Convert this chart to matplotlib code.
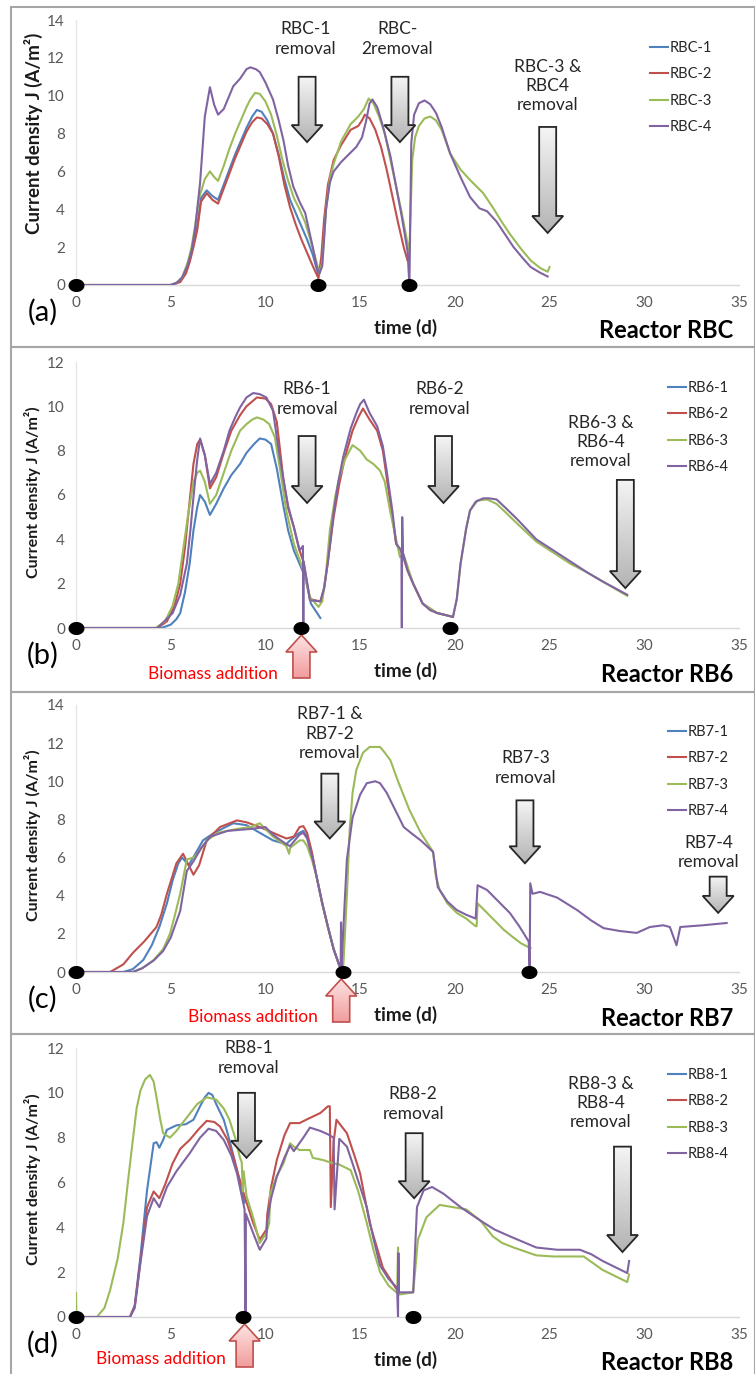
import numpy as np
import matplotlib
matplotlib.use("Agg")
import matplotlib.pyplot as plt
from matplotlib.patches import Polygon, Rectangle
from matplotlib.colors import LinearSegmentedColormap
from matplotlib.path import Path

plt.rcParams['font.family'] = ['Lato', 'DejaVu Sans']

W, H, DPI = 755, 1374, 100
COLORS = ['#4F81BD', '#C0504D', '#9BBB59', '#8064A2']

# ------------------------------------------------------------------ data
# Panel (a) Reactor RBC
names_a = ["RBC-1", "RBC-2", "RBC-3", "RBC-4"]
t_a1 = [0, 5.0, 5.5, 5.8, 6.0, 6.2, 6.4, 6.6, 6.9, 7.2, 7.5, 7.8, 8.1, 8.4, 8.7, 9.0, 9.3, 9.55, 9.8, 10.1, 10.4,
        10.7, 11.0, 11.3, 11.6, 11.9, 12.2, 12.5, 12.8]
j_a1 = [0, 0, 0.2, 0.7, 1.3, 2.1, 3.1, 4.6, 5.0, 4.7, 4.5, 5.3, 6.1, 6.9, 7.6, 8.3, 8.9, 9.25, 9.15, 8.7, 8.0,
        6.9, 5.6, 4.5, 3.8, 3.1, 2.4, 1.6, 0.5]
t_a2 = [0, 5.0, 5.5, 5.8, 6.0, 6.2, 6.4, 6.6, 6.9, 7.2, 7.5, 7.8, 8.1, 8.4, 8.7, 9.0, 9.3, 9.55, 9.8, 10.1, 10.4,
        10.7, 11.0, 11.3, 11.6, 11.9, 12.2, 12.5, 12.8, 12.95, 13.1, 13.3, 13.6, 14.0, 14.5, 14.9, 15.1, 15.25,
        15.5, 15.8, 16.1, 16.4, 16.7, 17.0, 17.3, 17.5]
j_a2 = [0, 0, 0.15, 0.6, 1.2, 2.0, 2.9, 4.4, 4.85, 4.5, 4.3, 5.1, 5.9, 6.7, 7.4, 8.1, 8.6, 8.85, 8.8, 8.5, 8.0,
        6.8, 5.3, 4.1, 3.2, 2.4, 1.7, 1.0, 0.35, 1.5, 3.5, 5.3, 6.6, 7.4, 8.2, 8.4, 8.7, 9.0,
        8.8, 8.2, 7.3, 6.1, 4.7, 3.3, 2.0, 1.3]
t_a3 = [0, 5.2, 5.6, 5.9, 6.1, 6.3, 6.5, 6.8, 7.07, 7.3, 7.5, 7.8, 8.1, 8.4, 8.7, 9.0, 9.2, 9.45, 9.7, 10.0, 10.3,
        10.6, 10.9, 11.2, 11.5, 11.8, 12.1, 12.4, 12.7, 12.85, 13.0, 13.2, 13.4, 13.6, 14.0, 14.5, 14.9, 15.2, 15.45,
        15.7, 16.0, 16.3, 16.6, 16.9, 17.2, 17.5, 17.6, 17.75, 17.9, 18.1, 18.4, 18.7, 19.0, 19.3, 19.75, 20.3,
        20.8, 21.5, 22.0, 22.5, 22.9, 23.5, 24.0, 24.5, 24.9, 25.0]
j_a3 = [0, 0, 0.4, 1.2, 2.0, 3.2, 4.6, 5.6, 6.0, 5.7, 5.5, 6.3, 7.2, 8.0, 8.7, 9.4, 9.8, 10.15, 10.1, 9.7, 9.0,
        7.9, 6.6, 5.5, 4.6, 4.0, 3.3, 2.3, 1.2, 0.6, 1.2, 4.0, 5.6, 6.4, 7.6, 8.5, 8.9, 9.3, 9.85,
        9.6, 8.9, 8.0, 6.6, 5.2, 3.8, 2.2, 1.8, 6.6, 7.8, 8.4, 8.8, 8.9, 8.7, 8.2, 6.95, 6.1,
        5.55, 4.85, 4.1, 3.3, 2.7, 1.9, 1.3, 0.9, 0.7, 0.95]
t_a4 = [0, 5.0, 5.3, 5.6, 5.86, 6.1, 6.28, 6.55, 6.8, 7.07, 7.3, 7.5, 7.8, 8.3, 8.66, 9.0, 9.2, 9.5, 9.7, 10.0,
        10.4, 10.7, 10.95, 11.2, 11.47, 11.8, 12.1, 12.3, 12.5, 12.7, 12.85, 13.0, 13.2, 13.4, 13.6, 14.0, 14.4,
        14.8, 15.1, 15.3, 15.5, 15.65, 15.9, 16.2, 16.6, 16.9, 17.2, 17.5, 17.6, 17.7, 17.85, 18.1, 18.4, 18.7,
        19.0, 19.3, 19.75, 20.3, 20.8, 21.3, 21.7, 22.2, 22.7, 23.1, 23.6, 24.0, 24.5, 24.9]
j_a4 = [0, 0, 0.1, 0.4, 0.95, 1.8, 2.9, 5.4, 8.9, 10.45, 9.5, 9.0, 9.3, 10.5, 10.9, 11.4, 11.5, 11.4, 11.25, 10.7,
        9.8, 8.7, 7.65, 6.3, 5.2, 4.4, 3.8, 2.9, 2.0, 1.0, 0.6, 1.0, 4.0, 5.4, 6.0, 6.5, 6.9,
        7.3, 7.8, 8.6, 9.6, 9.8, 9.4, 8.4, 6.8, 5.2, 3.6, 1.8, 0.0, 7.5, 9.0, 9.6, 9.75, 9.55,
        9.1, 8.35, 6.95, 5.7, 4.65, 4.05, 3.9, 3.35, 2.6, 2.0, 1.4, 0.95, 0.65, 0.45]
events_a = [0, 12.8, 17.6]

# Panel (b) Reactor RB6
names_b = ["RB6-1", "RB6-2", "RB6-3", "RB6-4"]
t_b1 = [0, 4.5, 5.0, 5.3, 5.5, 5.75, 6.0, 6.2, 6.4, 6.55, 6.8, 7.07, 7.4, 7.8, 8.2, 8.66, 9.0, 9.4, 9.7, 10.0,
        10.3, 10.6, 10.95, 11.2, 11.5, 11.8, 12.1, 12.4, 12.9]
j_b1 = [0, 0, 0.15, 0.4, 0.67, 1.6, 2.9, 4.4, 5.45, 6.0, 5.7, 5.1, 5.6, 6.3, 6.9, 7.4, 7.9, 8.3, 8.55, 8.5,
        8.3, 7.2, 5.5, 4.4, 3.5, 2.9, 2.3, 1.1, 0.45]
t_b2 = [0, 4.3, 4.8, 5.2, 5.5, 5.75, 5.95, 6.2, 6.4, 6.55, 6.8, 7.07, 7.4, 7.8, 8.2, 8.66, 9.0, 9.55, 10.0, 10.3,
        10.6, 10.95, 11.2, 11.5, 11.8, 12.0, 12.35, 12.9, 13.1, 13.3, 13.6, 13.9, 14.2, 14.6, 14.9, 15.15, 15.5,
        15.9, 16.2, 16.5, 16.9, 17.2, 17.5, 17.8, 18.3, 19.05, 19.9]
j_b2 = [0, 0, 0.3, 1.0, 2.0, 3.6, 5.3, 7.4, 8.3, 8.5, 7.8, 6.3, 6.8, 7.9, 8.9, 9.6, 10.0, 10.4, 10.35, 10.1,
        9.3, 6.7, 5.4, 4.55, 3.5, 3.0, 1.3, 1.2, 1.8, 3.0, 5.0, 6.5, 7.7, 8.9, 9.5, 9.9, 9.4,
        8.9, 8.0, 6.2, 3.8, 3.4, 2.6, 2.0, 1.1, 0.68, 0.5]
t_b3 = [0, 4.2, 4.7, 5.1, 5.4, 5.65, 5.9, 6.2, 6.4, 6.55, 6.8, 7.07, 7.4, 7.8, 8.2, 8.66, 9.0, 9.3, 9.55, 9.9,
        10.2, 10.5, 10.8, 11.1, 11.5, 12.0, 12.35, 12.8, 13.0, 13.2, 13.4, 13.7, 13.9, 14.2, 14.6, 15.0, 15.35,
        15.7, 16.05, 16.3, 16.6, 16.9, 17.1, 17.3, 17.8, 18.3, 19.05, 19.9, 20.1, 20.3, 20.6, 20.8, 21.2, 21.7,
        22.2, 22.7, 23.3, 24.3, 25.2, 26.1, 27.0, 27.8, 29.1]
j_b3 = [0, 0, 0.3, 1.0, 2.0, 3.5, 5.0, 6.6, 7.0, 7.1, 6.6, 5.6, 6.0, 7.0, 8.0, 8.9, 9.2, 9.4, 9.5, 9.4,
        9.2, 8.6, 7.0, 5.3, 3.8, 2.6, 1.4, 0.95, 1.2, 2.5, 4.4, 6.0, 6.8, 7.6, 8.25, 8.0, 7.6,
        7.4, 7.1, 6.6, 5.2, 4.0, 3.2, 3.3, 2.0, 1.1, 0.68, 0.5, 1.3, 2.9, 4.5, 5.3, 5.75, 5.8,
        5.6, 5.2, 4.7, 3.9, 3.4, 2.9, 2.5, 2.1, 1.45]
t_b4 = [0, 4.3, 5.1, 5.5, 5.85, 6.05, 6.2, 6.4, 6.55, 6.8, 7.07, 7.4, 7.8, 8.1, 8.4, 8.66, 9.0, 9.35, 9.7, 10.05,
        10.4, 10.7, 10.95, 11.2, 11.5, 11.8, 11.98, 12.0, 12.02, 12.35, 12.9, 13.1, 13.3, 13.6, 13.85, 14.1,
        14.5, 14.8, 15.0, 15.2, 15.5, 15.9, 16.2, 16.4, 16.7, 16.9, 17.18, 17.2, 17.22, 17.26, 17.5, 17.8, 18.3,
        18.7, 19.05, 19.9, 20.1, 20.3, 20.6, 20.8, 21.1, 21.5, 21.8, 22.2, 22.7, 23.3, 24.3, 25.2, 26.1, 27.0,
        27.8, 29.1]
j_b4 = [0, 0, 0.67, 1.5, 2.9, 4.5, 5.9, 7.6, 8.55, 7.8, 6.5, 7.0, 8.0, 8.9, 9.5, 9.95, 10.4, 10.6, 10.55, 10.4,
        9.8, 8.0, 6.7, 5.5, 4.55, 3.5, 3.7, 0, 3.0, 1.25, 1.2, 1.8, 3.0, 5.2, 6.6, 7.7,
        9.0, 9.7, 10.1, 10.3, 9.7, 9.1, 8.2, 7.1, 5.3, 3.8, 3.5, 0, 5.0, 3.4, 2.6, 2.0, 1.1,
        0.8, 0.68, 0.5, 1.3, 2.9, 4.5, 5.3, 5.7, 5.85, 5.85, 5.8, 5.4, 4.9, 4.0, 3.5, 3.0, 2.5,
        2.1, 1.5]
events_b = [0, 11.9, 19.75]

# Panel (c) Reactor RB7
names_c = ["RB7-1", "RB7-2", "RB7-3", "RB7-4"]
t_c1 = [0, 2.5, 3.0, 3.55, 4.0, 4.4, 4.8, 5.1, 5.4, 5.6, 5.95, 6.3, 6.7, 7.3, 8.3, 9.0, 9.7, 10.4, 11.1, 11.3,
        11.8, 12.0, 12.2, 12.45, 12.7, 13.0, 13.3, 13.6, 13.9, 14.05]
j_c1 = [0, 0, 0.15, 0.63, 1.4, 2.36, 3.6, 4.8, 5.7, 6.0, 5.6, 6.2, 6.9, 7.3, 7.8, 7.7, 7.3, 6.9, 6.7, 6.9,
        7.3, 7.4, 7.1, 6.2, 5.0, 3.6, 2.36, 1.2, 0.35, 0.1]
t_c2 = [0, 1.8, 2.5, 3.0, 3.6, 4.25, 4.5, 4.8, 5.3, 5.65, 5.9, 6.2, 6.5, 6.9, 7.6, 8.5, 9.0, 9.7, 10.4, 11.1,
        11.5, 11.8, 12.0, 12.2, 12.45, 12.7, 13.0, 13.3, 13.6, 13.9, 14.05]
j_c2 = [0, 0, 0.4, 1.0, 1.6, 2.36, 3.0, 4.1, 5.7, 6.2, 5.7, 5.1, 5.6, 6.9, 7.6, 7.95, 7.85, 7.6, 7.3, 7.0,
        7.1, 7.6, 7.65, 7.3, 6.3, 5.0, 3.6, 2.36, 1.2, 0.35, 0.1]
t_c3 = [0, 3.0, 3.5, 4.1, 4.6, 4.96, 5.2, 5.5, 5.85, 6.2, 6.5, 6.9, 7.5, 8.5, 9.2, 9.7, 10.4, 11.1, 11.25, 11.3,
        11.8, 12.0, 12.2, 12.45, 12.7, 13.0, 13.3, 13.6, 13.9, 14.1, 14.2, 14.3, 14.45, 14.6, 14.8, 15.15, 15.5,
        16.05, 16.3, 16.6, 17.0, 17.6, 18.2, 18.85, 19.0, 19.2, 19.6, 20.1, 20.6, 21.1, 21.15, 21.2, 21.7, 22.2,
        22.6, 23.1, 23.5, 24.0]
j_c3 = [0, 0, 0.2, 0.63, 1.2, 2.0, 2.9, 4.1, 5.9, 6.0, 6.3, 6.9, 7.3, 7.5, 7.6, 7.8, 7.1, 6.6, 6.2, 6.5,
        6.9, 6.9, 6.6, 5.9, 5.0, 3.6, 2.36, 1.2, 0.35, 0.1, 2.0, 4.0, 7.5, 9.4, 10.6, 11.5, 11.8,
        11.8, 11.5, 11.1, 10.0, 8.5, 7.3, 6.3, 5.0, 4.3, 3.6, 3.1, 2.8, 2.4, 2.4, 3.6, 3.1, 2.6,
        2.2, 1.8, 1.5, 1.25]
t_c4 = [0, 3.0, 3.5, 4.1, 4.6, 5.0, 5.5, 5.85, 6.2, 6.6, 7.1, 8.0, 9.2, 10.0, 10.4, 11.1, 11.3, 11.8, 12.0, 12.2,
        12.45, 12.7, 13.0, 13.3, 13.6, 13.9, 13.97, 13.99, 14.01, 14.1, 14.3, 14.6, 15.0, 15.35, 15.8, 16.05,
        16.4, 16.8, 17.3, 17.8, 18.2, 18.85, 19.1, 19.6, 20.1, 20.6, 21.1, 21.2, 21.7, 22.3, 22.9, 23.4, 23.9,
        23.95, 23.98, 24.1, 24.5, 25.4, 26.45, 27.2, 27.85, 28.7, 29.6, 30.3, 31.0, 31.35, 31.7, 31.9, 33.1,
        34.35]
j_c4 = [0, 0, 0.2, 0.6, 1.1, 1.8, 3.2, 5.3, 5.8, 6.5, 7.1, 7.4, 7.5, 7.6, 7.2, 6.7, 6.6, 7.2, 7.3, 7.0,
        6.1, 5.0, 3.6, 2.36, 1.2, 0.35, 0.1, 2.6, 0.1, 2.0, 5.9, 8.1, 9.3, 9.9, 10.0, 9.9,
        9.4, 8.6, 7.6, 7.2, 6.9, 6.3, 4.45, 3.7, 3.25, 3.0, 2.8, 4.55, 4.3, 3.7, 3.1, 2.4, 1.6,
        0, 4.65, 4.1, 4.2, 3.9, 3.25, 2.7, 2.3, 2.15, 2.05, 2.36, 2.45, 2.36, 1.4, 2.36, 2.45,
        2.57]
events_c = [0, 14.1, 23.9]

# Panel (d) Reactor RB8
names_d = ["RB8-1", "RB8-2", "RB8-3", "RB8-4"]
t_d1 = [0, 2.85, 3.1, 3.4, 3.75, 4.1, 4.25, 4.4, 4.6, 4.8, 5.3, 5.8, 6.2, 6.55, 6.8, 7.0, 7.2, 7.4, 7.8, 8.1, 8.4,
        8.66, 8.9]
j_d1 = [0, 0, 0.5, 2.7, 5.65, 7.75, 7.8, 7.55, 7.9, 8.35, 8.55, 8.6, 8.8, 9.4, 9.8, 10.0, 9.9, 9.5, 8.8, 7.9, 6.9,
        6.0, 5.1]
t_d2 = [0, 2.85, 3.1, 3.4, 3.75, 4.1, 4.4, 4.7, 5.1, 5.5, 6.0, 6.5, 6.9, 7.3, 7.6, 8.0, 8.3, 8.8, 9.35, 9.7,
        10.05, 10.1, 10.3, 10.6, 11.0, 11.3, 11.8, 12.15, 12.9, 13.3, 13.4, 13.45, 13.6, 13.75, 14.3, 14.7, 15.0,
        15.5, 16.2, 16.95]
j_d2 = [0, 0, 0.5, 2.5, 4.9, 5.6, 5.3, 5.9, 6.85, 7.5, 7.9, 8.4, 8.75, 8.7, 8.5, 7.9, 7.15, 5.65, 4.2, 3.45,
        3.9, 4.6, 5.8, 7.0, 8.1, 8.65, 8.65, 8.8, 9.1, 9.4, 9.4, 4.9, 7.8, 8.8, 8.2, 7.2, 6.4,
        4.2, 2.2, 1.2]
t_d3 = [0, 0.02, 1.1, 1.5, 1.8, 2.2, 2.5, 2.75, 3.0, 3.2, 3.4, 3.65, 3.9, 4.1, 4.25, 4.45, 4.6, 4.96, 5.3, 5.85,
        6.4, 6.9, 7.4, 7.8, 8.1, 8.4, 8.66, 8.75, 8.8, 8.85, 9.0, 9.35, 9.7, 10.05, 10.2, 10.25, 10.6, 10.95, 11.3,
        11.5, 11.8, 12.35, 12.5, 13.05, 13.4, 13.9, 14.5, 14.9, 15.35, 15.7, 16.05, 16.5, 16.95, 17.0, 17.05,
        17.8, 18.05, 18.5, 19.2, 19.9, 20.6, 21.35, 22.0, 22.5, 23.1, 24.3, 25.2, 26.1, 26.8, 27.8, 29.1, 29.2]
j_d3 = [1.07, 0, 0, 0.4, 1.2, 2.6, 4.2, 6.1, 7.9, 9.3, 10.1, 10.6, 10.8, 10.5, 9.8, 8.8, 8.2, 8.0, 8.3, 8.9,
        9.5, 9.8, 9.7, 9.3, 8.8, 8.0, 7.1, 6.9, 5.6, 6.5, 5.4, 4.45, 3.3, 3.75, 4.2, 5.5, 6.3, 6.85, 7.75,
        7.6, 7.45, 7.45, 7.1, 7.0, 6.9, 6.8, 6.55, 5.6, 4.2, 3.0, 2.0, 1.4, 1.07, 3.1, 1.0,
        1.1, 3.45, 4.45, 5.0, 4.9, 4.8, 4.3, 3.6, 3.3, 3.1, 2.75, 2.7, 2.7, 2.7, 2.1, 1.56, 1.9]
t_d4 = [0, 2.85, 3.1, 3.4, 3.75, 4.1, 4.4, 4.8, 5.3, 6.0, 6.55, 7.0, 7.4, 7.8, 8.2, 8.5, 8.9, 8.95, 8.97, 9.35,
        9.7, 10.05, 10.1, 10.3, 10.6, 11.0, 11.3, 11.5, 12.0, 12.35, 12.9, 13.3, 13.6, 13.65, 13.9, 14.3, 14.6,
        15.0, 15.35, 15.7, 16.05, 16.5, 16.95, 17.0, 17.02, 17.05, 17.8, 18.0, 18.35, 18.8, 19.4, 20.3, 21.35,
        22.1, 22.9, 24.3, 25.4, 26.6, 27.2, 27.8, 29.1, 29.2]
j_d4 = [0, 0, 0.4, 2.4, 4.5, 5.3, 4.9, 5.8, 6.5, 7.3, 8.0, 8.4, 8.3, 7.9, 7.2, 6.4, 4.8, 0, 4.6, 3.75,
        3.0, 3.5, 4.3, 5.3, 6.25, 7.1, 7.65, 7.4, 8.0, 8.45, 8.3, 8.15, 8.0, 4.8, 7.95, 7.6, 6.85,
        5.8, 4.9, 3.5, 2.3, 1.7, 1.3, 0, 2.85, 1.1, 1.1, 4.9, 5.65, 5.8, 5.5, 4.9, 4.3,
        3.9, 3.6, 3.1, 3.0, 3.0, 2.8, 2.5, 1.96, 2.5]
events_d = [0, 8.8, 17.8]

x_ticks = [0, 5, 10, 15, 20, 25, 30, 35]

# annotations: (arrow x, arrow top, arrow tip, text x, text y, text)
removals_a = [(12.2, 11.0, 7.55, 12.1, 13.0, "RBC-1\nremoval"),
              (17.1, 11.0, 7.55, 16.95, 13.0, "RBC-\n2removal"),
              (24.9, 8.35, 2.75, 24.9, 10.5, "RBC-3 &\nRBC4\nremoval")]
removals_b = [(12.2, 8.66, 5.64, 12.2, 10.33, "RB6-1\nremoval"),
              (19.4, 8.66, 5.64, 19.2, 10.33, "RB6-2\nremoval"),
              (29.0, 6.68, 1.8, 27.7, 8.4, "RB6-3 &\nRB6-4\nremoval")]
removals_c = [(13.4, 10.4, 7.0, 13.4, 12.5, "RB7-1 &\nRB7-2\nremoval"),
              (23.7, 9.0, 5.7, 23.75, 10.7, "RB7-3\nremoval"),
              (33.9, 5.0, 3.1, 33.4, 6.25, "RB7-4\nremoval")]
removals_d = [(9.0, 10.0, 7.1, 9.1, 11.55, "RB8-1\nremoval"),
              (17.85, 8.2, 5.3, 17.8, 9.5, "RB8-2\nremoval"),
              (28.85, 7.6, 2.9, 27.7, 9.55, "RB8-3 &\nRB8-4\nremoval")]
biomass_b = 11.9
biomass_c = 14.0
biomass_d = 8.9

# ------------------------------------------------------------------ figure
fig = plt.figure(figsize=(W / DPI, H / DPI), dpi=DPI)
fig.patch.set_facecolor('white')

def fx(px):
    return px / W

def fy(py):
    return 1 - py / H

# frames
for top, bot in [(7, 347), (347, 692), (692, 1034), (1034, 1380)]:
    fig.add_artist(Rectangle((fx(11), fy(bot)), fx(755) - fx(11), fy(top) - fy(bot),
                             transform=fig.transFigure, fill=False, ec='#a6a6a6', lw=1.5, zorder=0))

_th = np.linspace(0, 2 * np.pi, 60)
ellipse = Path(np.column_stack([np.cos(_th), 0.8 * np.sin(_th)]))

def block_arrow(ax, xc, y_tail, y_tip, c_upper, c_lower, edge,
                shaft_px=17, head_w_px=31, head_len_px=17, lw=1.3):
    bb = ax.get_position()
    ux = 35.0 / (bb.width * W)
    y0, y1 = ax.get_ylim()
    uy = (y1 - y0) / (bb.height * H)
    sw, hw = shaft_px * ux / 2, head_w_px * ux / 2
    d = 1 if y_tip > y_tail else -1
    yh = y_tip - d * head_len_px * uy
    verts = [(xc - sw, y_tail), (xc + sw, y_tail), (xc + sw, yh), (xc + hw, yh),
             (xc, y_tip), (xc - hw, yh), (xc - sw, yh)]
    patch = Polygon(verts, closed=True, fc='none', ec=edge, lw=lw, zorder=9,
                    clip_on=False, joinstyle='miter')
    ax.add_patch(patch)
    grad = np.linspace(0, 1, 256).reshape(-1, 1)
    cmap = LinearSegmentedColormap.from_list('g', [c_upper, c_lower])
    im = ax.imshow(grad, extent=[xc - hw, xc + hw, min(y_tail, y_tip), max(y_tail, y_tip)],
                   origin='upper', cmap=cmap, aspect='auto', zorder=8, interpolation='bilinear')
    im.set_clip_box(fig.bbox)
    im.set_clip_path(patch)

panels = [
    dict(y0=285, ytop=20, ymax=14, names=names_a, t=[t_a1, t_a2, t_a3, t_a4], j=[j_a1, j_a2, j_a3, j_a4],
         ev=events_a, rem=removals_a, bio=None, lab='(a)', reac='Reactor RBC', leg=(650, 41),
         ylab_c=133, ylab_fs=13.5),
    dict(y0=628, ytop=362, ymax=12, names=names_b, t=[t_b1, t_b2, t_b3, t_b4], j=[j_b1, j_b2, j_b3, j_b4],
         ev=events_b, rem=removals_b, bio=(biomass_b, 278, 674), lab='(b)', reac='Reactor RB6', leg=(668, 381),
         ylab_c=492, ylab_fs=11.5),
    dict(y0=972, ytop=705, ymax=14, names=names_c, t=[t_c1, t_c2, t_c3, t_c4], j=[j_c1, j_c2, j_c3, j_c4],
         ev=events_c, rem=removals_c, bio=(biomass_c, 318, 1017), lab='(c)', reac='Reactor RB7', leg=(668, 725),
         ylab_c=835, ylab_fs=11.5),
    dict(y0=1317, ytop=1048, ymax=12, names=names_d, t=[t_d1, t_d2, t_d3, t_d4], j=[j_d1, j_d2, j_d3, j_d4],
         ev=events_d, rem=removals_d, bio=(biomass_d, 226, 1359), lab='(d)', reac='Reactor RB8', leg=(668, 1068),
         ylab_c=1179, ylab_fs=11.5),
]

for p in panels:
    ax = fig.add_axes([fx(76), fy(p['y0']), fx(739) - fx(76), (p['y0'] - p['ytop']) / H])
    ax.set_facecolor('none')
    ax.set_xlim(0, 35)
    ax.set_ylim(0, p['ymax'])
    ax.set_autoscale_on(False)
    for s in ['top', 'right']:
        ax.spines[s].set_visible(False)
    ax.spines['bottom'].set_color('#d9d9d9')
    ax.spines['left'].set_color('#e6e6e6')
    ax.spines['bottom'].set_linewidth(1.0)
    ax.spines['left'].set_linewidth(1.0)
    ax.set_xticks(x_ticks)
    ax.set_yticks(np.arange(0, p['ymax'] + 1, 2))
    ax.tick_params(length=0, labelsize=11, colors='#595959', pad=8)

    for k in range(4):
        ax.plot(p['t'][k], p['j'][k], color=COLORS[k], lw=1.5, label=p['names'][k], zorder=3 + k * 0.1,
                solid_joinstyle='round')
    ax.plot(p['ev'], np.zeros(len(p['ev'])), linestyle='none', marker=ellipse, ms=10.5, color='black',
            clip_on=False, zorder=10)

    for (xa, ytl, ytp, xt, yt, txt) in p['rem']:
        block_arrow(ax, xa, ytl, ytp, '#f5f5f5', '#b3b3b3', '#262626')
        ax.text(xt, yt, txt, ha='center', va='center', fontsize=12.5, color='#262626',
                linespacing=1.25, zorder=11)

    if p['bio'] is not None:
        xb, tx_px, ty_px = p['bio']
        bb = ax.get_position()
        uy = p['ymax'] / (bb.height * H)
        block_arrow(ax, xb, -50 * uy, -7 * uy, '#fde3e3', '#f29c9c', '#c0504d', lw=1.2)
        fig.text(fx(tx_px), fy(ty_px), 'Biomass addition', ha='right', va='center', fontsize=12.5,
                 color='#ff0000')

    leg = ax.legend(loc='upper left', bbox_to_anchor=(fx(p['leg'][0]), fy(p['leg'][1])),
                    bbox_transform=fig.transFigure, frameon=False, fontsize=10.5, handlelength=1.25,
                    handletextpad=0.1, labelspacing=0.85, borderpad=0, borderaxespad=0)
    for t in leg.get_texts():
        t.set_color('#262626')

    fig.text(fx(33), fy(p['ylab_c']), 'Current density J (A/m²)', rotation=90, ha='center', va='center',
             fontsize=p['ylab_fs'], fontweight='bold', color='#1a1a1a')
    fig.text(fx(406), fy(p['y0'] + 43), 'time (d)', ha='center', va='center', fontsize=13.5,
             fontweight='bold', color='#1a1a1a')
    fig.text(fx(733), fy(p['y0'] + 46), p['reac'], ha='right', va='center', fontsize=17,
             fontweight='bold', color='black')
    fig.text(fx(43), fy(p['y0'] + 27), p['lab'], ha='center', va='center', fontsize=21, color='black')

fig.savefig('out.png', dpi=DPI)
